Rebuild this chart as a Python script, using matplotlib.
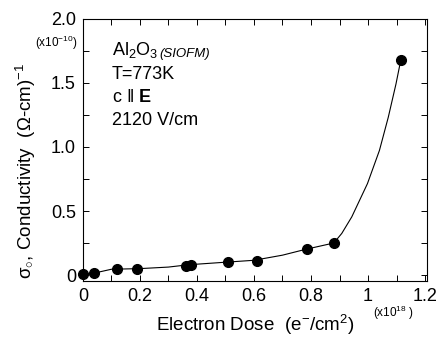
import matplotlib
matplotlib.use("Agg")
import matplotlib.pyplot as plt
from matplotlib.ticker import MultipleLocator, FixedFormatter, FixedLocator

plt.rcParams['font.family'] = ['Liberation Sans', 'DejaVu Sans']
plt.rcParams['mathtext.fontset'] = 'custom'
plt.rcParams['mathtext.rm'] = 'Liberation Sans'
plt.rcParams['mathtext.it'] = 'Liberation Sans:italic'
plt.rcParams['mathtext.bf'] = 'Liberation Sans:bold'

# measured points (dose in 1e18 e-/cm2, conductivity in 1e-10 (ohm cm)^-1)
dose = [0.0, 0.04, 0.12, 0.19, 0.36, 0.38, 0.51, 0.61, 0.785, 0.88, 1.115]
sigma = [0.01, 0.015, 0.05, 0.045, 0.07, 0.08, 0.10, 0.11, 0.20, 0.25, 1.68]

# guide curve
curve_x = [0.0, 0.04, 0.1, 0.2, 0.3, 0.37, 0.5, 0.6, 0.7, 0.78, 0.88,
           0.908, 0.943, 0.998, 1.040, 1.071, 1.098, 1.115]
curve_y = [0.0, 0.015, 0.045, 0.05, 0.062, 0.08, 0.10, 0.115, 0.155, 0.20, 0.25,
           0.325, 0.454, 0.714, 0.973, 1.232, 1.492, 1.68]

x_ticks = [0, 0.2, 0.4, 0.6, 0.8, 1.0, 1.2]
x_labels = ['0', '0.2', '0.4', '0.6', '0.8', '1', '1.2']
y_ticks = [0, 0.5, 1.0, 1.5, 2.0]
y_labels = ['0', '0.5', '1.0', '1.5', '2.0']


def main():
    fig = plt.figure(figsize=(4.43, 3.39), dpi=100)
    ax = fig.add_axes([0.187, 0.171, 0.777, 0.773])

    ax.plot(curve_x, curve_y, color='black', lw=0.8)
    ax.plot(dose, sigma, 'o', color='black', ms=7, clip_on=False)

    ax.set_xlim(0, 1.207)
    ax.set_ylim(-0.047, 2.0)

    ax.xaxis.set_major_locator(FixedLocator(x_ticks))
    ax.xaxis.set_major_formatter(FixedFormatter(x_labels))
    ax.xaxis.set_minor_locator(MultipleLocator(0.1))
    ax.yaxis.set_major_locator(FixedLocator(y_ticks))
    ax.yaxis.set_major_formatter(FixedFormatter(y_labels))
    ax.yaxis.set_minor_locator(MultipleLocator(0.25))
    ax.tick_params(which='both', direction='in', top=True, right=True,
                   width=0.7, labelsize=13)
    ax.tick_params(which='major', length=4, pad=5)
    ax.tick_params(which='minor', length=4)
    for s in ax.spines.values():
        s.set_linewidth(0.8)

    ax.set_xlabel('Electron Dose  (e$^{-}$/cm$^{2}$)', fontsize=13.5, labelpad=6)
    ax.set_ylabel('σ$_{\\circ}$, Conductivity  (Ω-cm)$^{-1}$', fontsize=13.5)
    ax.yaxis.set_label_coords(-0.13, 0.42)

    fig.text(0.174, 0.873, '(x10$^{-10}$)', fontsize=8.5, ha='right', va='center')
    fig.text(0.888, 0.078, '(x10$^{18}$ )', fontsize=8.5, ha='center', va='center')

    t1 = ax.text(0.084, 0.862, 'Al$_2$O$_3$', transform=ax.transAxes, fontsize=13)
    ax.annotate('(SIOFM)', xy=(1.0, 0.0), xycoords=t1, xytext=(1, 2),
                textcoords='offset points', fontsize=9.5, style='italic')
    ax.text(0.084, 0.772, 'T=773K', transform=ax.transAxes, fontsize=13)
    ax.text(0.084, 0.682, r'c $\Vert$ $\mathbf{E}$', transform=ax.transAxes, fontsize=13)
    ax.text(0.084, 0.594, '2120 V/cm', transform=ax.transAxes, fontsize=13)

    fig.savefig('out.png', dpi=100)


if __name__ == "__main__":
    main()
